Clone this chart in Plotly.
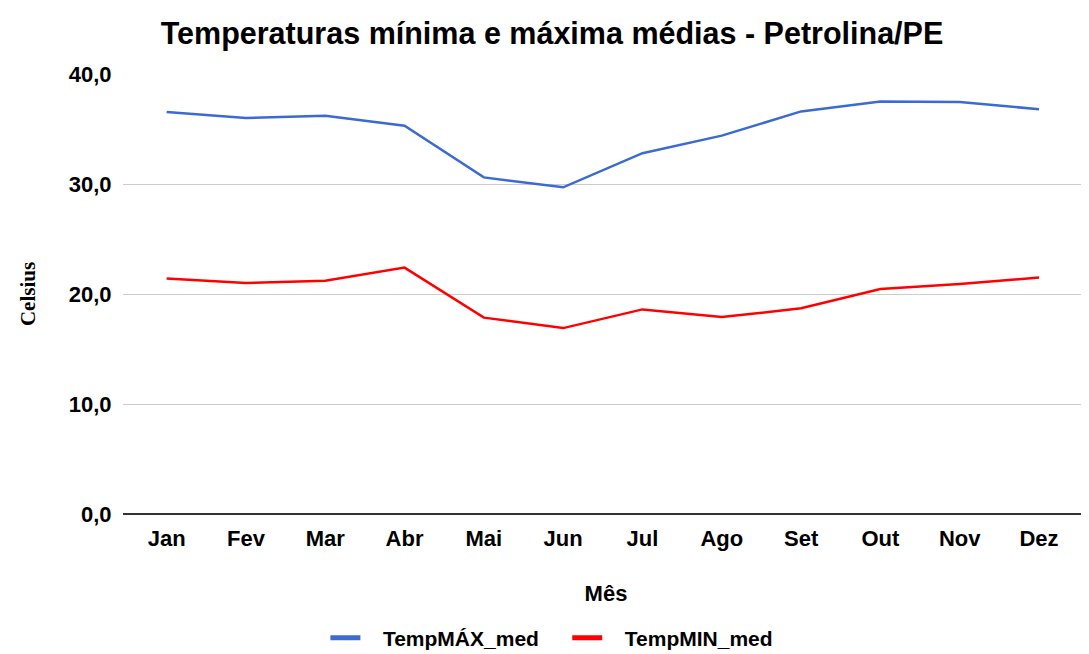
import plotly.graph_objects as go

meses = ["Jan", "Fev", "Mar", "Abr", "Mai", "Jun", "Jul", "Ago", "Set", "Out", "Nov", "Dez"]
temp_max = [36.55, 36.0, 36.2, 35.3, 30.6, 29.7, 32.8, 34.4, 36.6, 37.5, 37.45, 36.8]
temp_min = [21.4, 21.0, 21.2, 22.4, 17.85, 16.9, 18.6, 17.9, 18.7, 20.45, 20.9, 21.5]
y_ticks = [0, 10, 20, 30, 40]
y_labels = ["0,0", "10,0", "20,0", "30,0", "40,0"]

cor_max = "#3b6bd0"
cor_min = "#ff0000"
nb = "\u00a0"

fig = go.Figure()
fig.add_trace(go.Scatter(x=meses, y=temp_max, mode="lines", showlegend=False,
                         line=dict(color=cor_max, width=2.5)))
fig.add_trace(go.Scatter(x=meses, y=temp_min, mode="lines", showlegend=False,
                         line=dict(color=cor_min, width=2.5)))
# legend entries with thicker swatches
fig.add_trace(go.Scatter(x=[None], y=[None], mode="lines", name=nb * 3 + "<b>TempMÁX_med</b>" + nb * 4,
                         line=dict(color=cor_max, width=5)))
fig.add_trace(go.Scatter(x=[None], y=[None], mode="lines", name=nb * 3 + "<b>TempMIN_med</b>",
                         line=dict(color=cor_min, width=5)))

# the page body adds an 8px offset, so positions are measured from (8, 8)
fig.update_layout(
    width=1089, height=654,
    margin=dict(l=115, r=8, t=66, b=148, autoexpand=False),
    paper_bgcolor="white", plot_bgcolor="white",
    font=dict(family="Liberation Sans, Arial, sans-serif", color="#000000", size=21),
    title=dict(text="<b>Temperaturas mínima e máxima médias - Petrolina/PE</b>",
               x=544 / 1089, xref="container", xanchor="center",
               y=1 - 25 / 654, yref="container", yanchor="middle",
               font=dict(size=30.5, color="#000000")),
    legend=dict(orientation="h", x=0.444, xanchor="center", y=-0.282, yanchor="middle",
                font=dict(size=21), itemwidth=30),
    showlegend=True,
)

fig.update_xaxes(
    type="category", range=[-0.55, 11.63], automargin=False,
    showgrid=False, zeroline=False, showline=False,
    ticks="outside", ticklen=5, tickcolor="rgba(0,0,0,0)",
    tickfont=dict(size=22),
    tickprefix="<b>", ticksuffix="</b>",
    title=dict(text="<b>Mês</b>", font=dict(size=22), standoff=35),
)
fig.update_yaxes(
    range=[0, 40], tickvals=y_ticks, ticktext=["<b>%s</b>" % t for t in y_labels],
    automargin=False,
    showgrid=True, gridcolor="#cccccc", gridwidth=1,
    zeroline=True, zerolinecolor="#333333", zerolinewidth=1.5,
    tickfont=dict(size=22), ticks="outside", ticklen=6, tickcolor="rgba(0,0,0,0)",
    title=dict(text="<b>Celsius</b>", font=dict(family="Liberation Serif, Times New Roman, serif", size=21),
               standoff=27),
)

fig.write_html("out.html")
